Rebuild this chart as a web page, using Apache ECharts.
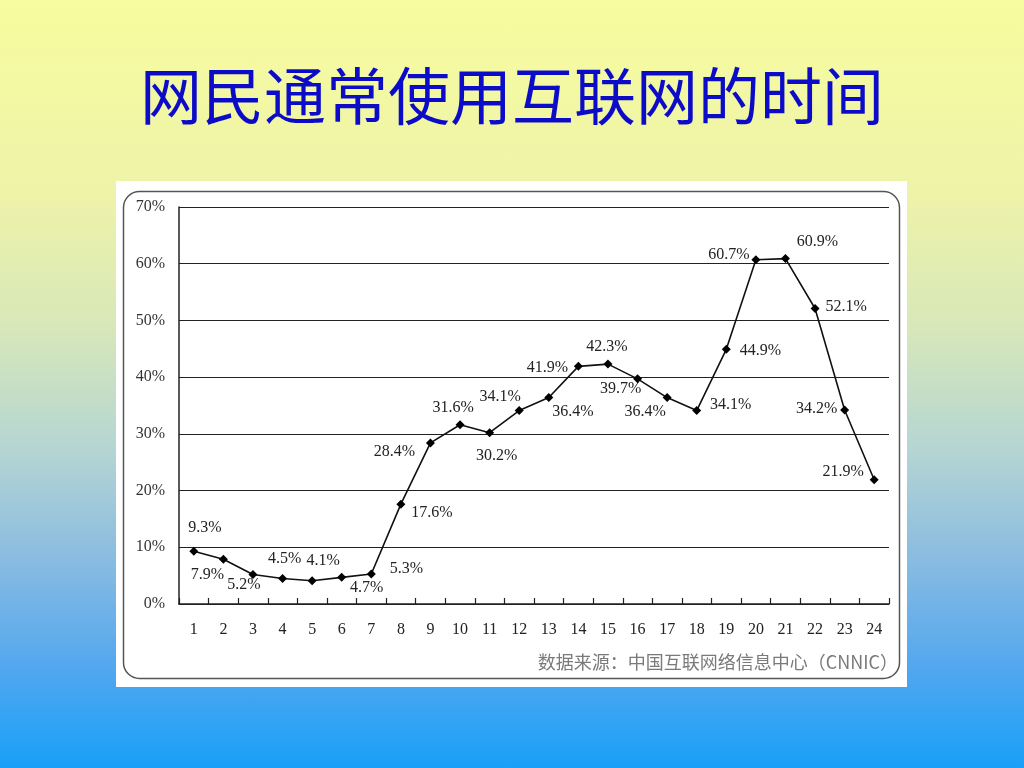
<!DOCTYPE html>
<html>
<head>
<meta charset="utf-8">
<script src="https://cdn.jsdelivr.net/npm/echarts@6/dist/echarts.min.js"></script>
<style>
html,body{margin:0;padding:0;width:1024px;height:768px;overflow:hidden;
background:linear-gradient(to bottom,#f7fc9f 0%,#eef3a8 25%,#d8e8b8 42%,#b6d6d2 58%,#8cbde0 72%,#52a7ef 87%,#18a0f8 100%);}
#main{width:1024px;height:768px;}
</style>
</head>
<body>
<div id="main"></div>
<script>
const hours = ['1','2','3','4','5','6','7','8','9','10','11','12','13','14','15','16','17','18','19','20','21','22','23','24'];
const usage = [9.3,7.9,5.2,4.5,4.1,4.7,5.3,17.6,28.4,31.6,30.2,34.1,36.4,41.9,42.3,39.7,36.4,34.1,44.9,60.7,60.9,52.1,34.2,21.9];
const yTicks = [0,10,20,30,40,50,60,70];
const titleText = '网民通常使用互联网的时间';
const sourceText = '数据来源：中国互联网络信息中心（CNNIC）';
// label offsets (styling only): label centre relative to point, px
const labelOffsets = [[11,-23],[-16,16],[-9,10],[2,-20],[11,-20],[25,10],[35,-5],[31,9],[-36,9],[-7,-17],[7,23],[-19,-14],[24,14],[-31,1],[-1,-17],[-17,10],[-22,14],[34,-6],[34,1],[-27,-5],[32,-17],[31,-2],[-28,-1],[-31,-8]];

const chart = echarts.init(document.getElementById('main'), null, {renderer:'canvas'});
const serif = '"Liberation Serif","Times New Roman",serif';
const seriesData = usage.map((v,i)=>({
  value: v,
  label: {show:true, position:'inside', offset: labelOffsets[i], formatter: v.toFixed(1)+'%',
          fontFamily: serif, fontSize: 16, color:'#222'}
}));
chart.setOption({
  backgroundColor: 'transparent',
  animation: false,
  title: {text: titleText, left: 'center', top: 60,
    textStyle:{fontFamily:'"Noto Sans CJK SC",sans-serif', fontSize: 62, fontWeight:'normal', color:'#0c0cc8'}},
  graphic: [
    {type:'rect', z:-10, shape:{x:116,y:181,width:791,height:506}, style:{fill:'#ffffff'}},
    {type:'rect', z:-9, shape:{x:123.5,y:191.5,width:776,height:487,r:16}, style:{fill:'none', stroke:'#555', lineWidth:1.5}},
    {type:'text', z:5, right: 126, top: 653, style:{text: sourceText, fontFamily:'"Noto Sans CJK SC",sans-serif', fontSize: 18, fill:'#7a7a7a'}}
  ],
  grid: {left:179, right:135, top:207, bottom:164},
  xAxis: {
    type:'category', data: hours, boundaryGap: true,
    axisLine:{show:true, lineStyle:{color:'#222', width:1.5}},
    axisTick:{show:true, inside:true, length:6, alignWithLabel:false, lineStyle:{color:'#222', width:1.2}},
    axisLabel:{fontFamily: serif, fontSize: 16, color:'#222', margin: 18},
    splitLine:{show:false}
  },
  yAxis: {
    type:'value', min:0, max:70, interval:10,
    axisLine:{show:true, lineStyle:{color:'#222', width:1.5}},
    axisTick:{show:false},
    axisLabel:{fontFamily: serif, fontSize: 16, color:'#333', margin: 14, formatter: v => yTicks.includes(v) ? v+'%' : ''},
    splitLine:{show:true, lineStyle:{color:'#222', width:1.2}}
  },
  series: [{
    type:'line', data: seriesData,
    symbol:'diamond', symbolSize: 9, showAllSymbol: true,
    lineStyle:{color:'#111', width:1.6},
    itemStyle:{color:'#000'}
  }]
});
</script>
</body>
</html>
